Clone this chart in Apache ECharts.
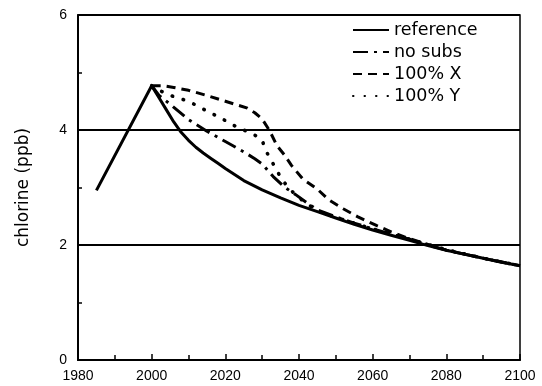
<!DOCTYPE html>
<html>
<head>
<meta charset="utf-8">
<script src="https://cdn.jsdelivr.net/npm/echarts@6/dist/echarts.min.js"></script>
<style>
  html, body { margin: 0; padding: 0; background: #fff; }
  #chart { width: 542px; height: 386px; }
</style>
</head>
<body>
<div id="chart"></div>
<script>
// Projected stratospheric chlorine loading under different substitution scenarios

const seriesNames = ['reference', 'no subs', '100% X', '100% Y'];

const refYears  = [1985, 2000, 2002, 2004, 2006, 2008, 2010, 2012, 2014, 2016, 2018, 2020, 2025, 2030, 2035, 2040, 2045, 2050, 2055, 2060, 2065, 2070, 2075, 2080, 2085, 2090, 2095, 2100];
const refValues = [2.95, 4.77, 4.56, 4.35, 4.14, 3.96, 3.82, 3.70, 3.60, 3.51, 3.42, 3.33, 3.12, 2.96, 2.82, 2.69, 2.58, 2.47, 2.36, 2.26, 2.17, 2.08, 1.99, 1.91, 1.84, 1.77, 1.70, 1.64];

const noSubsYears  = [2000, 2002, 2005, 2010, 2015, 2020, 2025, 2028, 2030, 2033, 2036, 2039, 2042, 2045, 2050, 2055, 2060, 2065, 2070, 2075, 2080, 2090, 2100];
const noSubsValues = [4.77, 4.60, 4.45, 4.18, 3.98, 3.80, 3.62, 3.50, 3.41, 3.19, 3.01, 2.88, 2.74, 2.61, 2.49, 2.38, 2.28, 2.19, 2.10, 2.00, 1.91, 1.77, 1.64];

const xYears  = [2000, 2003, 2006, 2010, 2015, 2020, 2026, 2028, 2030, 2032, 2034, 2036, 2038, 2041, 2045, 2048, 2052, 2056, 2061, 2065, 2069, 2073, 2077, 2080, 2090, 2100];
const xValues = [4.77, 4.77, 4.74, 4.69, 4.60, 4.50, 4.38, 4.30, 4.19, 3.99, 3.73, 3.57, 3.38, 3.15, 2.97, 2.79, 2.63, 2.49, 2.34, 2.23, 2.13, 2.05, 1.97, 1.91, 1.77, 1.64];

const yYears  = [2000, 2003, 2006, 2010, 2015, 2019, 2022, 2026, 2029, 2030, 2031, 2033, 2035, 2037, 2040, 2043, 2046, 2050, 2055, 2060, 2065, 2070, 2075, 2080, 2090, 2100];
const yValues = [4.77, 4.66, 4.58, 4.50, 4.33, 4.20, 4.09, 3.97, 3.88, 3.82, 3.64, 3.41, 3.18, 3.00, 2.82, 2.68, 2.57, 2.48, 2.38, 2.28, 2.19, 2.10, 2.01, 1.92, 1.77, 1.64];

const yTickLabels = ['0', '2', '4', '6'];

function pairs(xs, ys) { return xs.map((x, i) => [x, ys[i]]); }

const lineDefs = [
  { data: pairs(refYears, refValues),       type: 'solid',       cap: 'butt',  width: 3 },
  { data: pairs(noSubsYears, noSubsValues), type: [15, 6, 3, 6], cap: 'butt',  width: 3 },
  { data: pairs(xYears, xValues),           type: [9, 6],        cap: 'butt',  width: 3 },
  { data: pairs(yYears, yValues),           type: [0.5, 11],     cap: 'round', width: 3.6 }
];

const chart = echarts.init(document.getElementById('chart'), null, { renderer: 'canvas' });

chart.setOption({
  backgroundColor: '#fff',
  animation: false,
  color: ['#000'],
  grid: {
    left: 78, right: 22, top: 15, bottom: 26,
    show: true, borderColor: '#000', borderWidth: 1.5, backgroundColor: 'transparent'
  },
  legend: {
    data: seriesNames,
    orient: 'vertical',
    left: 352, top: 21, padding: 0,
    itemWidth: 36, itemHeight: 14, itemGap: 4,
    itemStyle: { opacity: 0 },
    textStyle: { fontFamily: 'DejaVu Sans', fontSize: 17.5, color: '#000', lineHeight: 14 }
  },
  xAxis: {
    type: 'value', min: 1980, max: 2100, interval: 20,
    axisLine: { lineStyle: { color: '#000', width: 2 } },
    axisTick: { inside: true, length: 6, lineStyle: { color: '#000', width: 1.5 } },
    minorTick: { show: true, splitNumber: 2, length: 5, lineStyle: { color: '#000', width: 1.5 } },
    axisLabel: { color: '#000', fontFamily: 'Liberation Sans', fontSize: 14, margin: 9, formatter: v => String(v) },
    splitLine: { show: false }
  },
  yAxis: {
    type: 'value', min: 0, max: 6, interval: 2,
    name: 'chlorine (ppb)', nameLocation: 'middle', nameRotate: 90, nameGap: 46,
    nameTextStyle: { fontFamily: 'DejaVu Sans', fontSize: 17, color: '#000' },
    axisLine: { lineStyle: { color: '#000', width: 2 } },
    axisTick: { inside: true, length: 9, lineStyle: { color: '#000', width: 1.5 } },
    minorTick: { show: true, splitNumber: 2, length: 4, lineStyle: { color: '#000', width: 1.5 } },
    axisLabel: {
      color: '#000', fontFamily: 'Liberation Sans', fontSize: 14, margin: 11,
      formatter: v => yTickLabels[Math.round(v / 2)]
    },
    splitLine: { show: true, lineStyle: { color: '#000', width: 1.8 } }
  },
  series: lineDefs.map((d, i) => ({
    name: seriesNames[i],
    type: 'line',
    data: d.data,
    symbol: 'none',
    smooth: false,
    z: 4 - i,
    itemStyle: { color: '#000' },
    lineStyle: { color: '#000', width: d.width, type: d.type, cap: d.cap, join: 'round' }
  }))
});
</script>
</body>
</html>
